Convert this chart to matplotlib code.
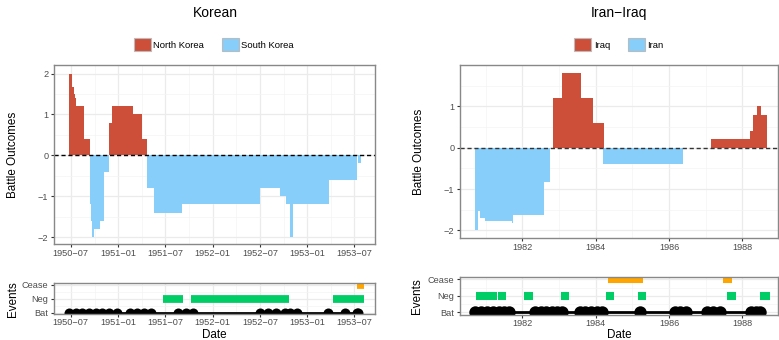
import numpy as np
import matplotlib
matplotlib.use('Agg')
import matplotlib.pyplot as plt
import matplotlib.dates as mdates
from matplotlib.patches import Patch

plt.rcParams['font.family'] = ['Liberation Sans', 'DejaVu Sans']

RED = '#CD4F39'
BLUE = '#87CEFA'
GREEN = '#00CD66'
ORANGE = '#FFA500'

# ---------------- Korean War data ----------------
korea_start = ['1950-06-25', '1950-07-06', '1950-07-12', '1950-07-16', '1950-07-21', '1950-08-20',
               '1950-09-14', '1950-09-17', '1950-09-22', '1950-09-28', '1950-10-22', '1950-11-07',
               '1950-11-27', '1950-12-08', '1951-02-26', '1951-04-03',
               '1951-04-22', '1951-05-18', '1951-09-04', '1952-06-30', '1952-09-17', '1952-10-10',
               '1952-10-25', '1952-11-06', '1953-03-24', '1953-07-14']
korea_end = ['1950-07-06', '1950-07-12', '1950-07-16', '1950-07-21', '1950-08-20', '1950-09-14',
             '1950-09-17', '1950-09-22', '1950-09-28', '1950-10-22', '1950-11-07', '1950-11-27',
             '1950-12-08', '1951-02-26', '1951-04-03', '1951-04-22',
             '1951-05-18', '1951-09-04', '1952-06-30', '1952-09-17', '1952-10-10', '1952-10-25',
             '1952-11-06', '1953-03-24', '1953-07-10', '1953-07-25']
korea_value = [2.0, 1.67, 1.5, 1.4, 1.2, 0.4,
               -1.2, -1.6, -2.0, -1.8, -1.6, -0.4,
               0.8, 1.2, 1.0, 0.4,
               -0.8, -1.4, -1.2, -0.8, -1.0, -1.2,
               -2.0, -1.2, -0.6, -0.2]

korea_neg_start = ['1951-06-22', '1951-10-09', '1953-04-09']
korea_neg_end = ['1951-09-07', '1952-10-20', '1953-08-09']
korea_cease_start = ['1953-07-10']
korea_cease_end = ['1953-08-09']
korea_battles = ['1950-06-25', '1950-07-20', '1950-08-15', '1950-09-10', '1950-10-05', '1950-10-30',
                 '1950-11-25', '1950-12-25', '1951-02-16', '1951-03-12', '1951-04-10', '1951-05-08',
                 '1951-08-20', '1951-09-18', '1951-10-16', '1952-07-01', '1952-08-01', '1952-09-01',
                 '1952-10-06', '1952-10-25', '1952-11-20', '1953-03-21', '1953-05-25', '1953-07-10',
                 '1953-07-16']
korea_ticks = ['1950-07-01', '1951-01-01', '1951-07-01', '1952-01-01', '1952-07-01', '1953-01-01', '1953-07-01']
korea_tick_labels = ['1950\u221207', '1951\u221201', '1951\u221207', '1952\u221201',
                     '1952\u221207', '1953\u221201', '1953\u221207']
korea_minor = ['1950-10-01', '1951-04-01', '1951-10-01', '1952-04-01', '1952-10-01', '1953-04-01']
korea_xlim = ['1950-04-27', '1953-09-19']

# ---------------- Iran-Iraq War data (decimal years) ----------------
iran_start = [1980.72, 1980.79, 1980.85, 1980.98, 1981.72, 1981.75, 1982.58,
              1982.83, 1983.08, 1983.59, 1983.92,
              1984.20,
              1987.14, 1988.21, 1988.28, 1988.39, 1988.50]
iran_end = [1980.79, 1980.85, 1980.98, 1981.72, 1981.75, 1982.58, 1982.75,
            1983.08, 1983.59, 1983.92, 1984.22,
            1986.37,
            1988.21, 1988.28, 1988.39, 1988.50, 1988.66]
iran_value = [-2.0, -1.52, -1.69, -1.76, -1.81, -1.62, -0.82,
              1.2, 1.8, 1.2, 0.6,
              -0.4,
              0.2, 0.4, 0.8, 1.0, 0.8]

iran_neg_start = [1980.74, 1981.34, 1982.05, 1983.05, 1984.28, 1985.15, 1987.58, 1988.48]
iran_neg_end = [1981.31, 1981.55, 1982.29, 1983.27, 1984.49, 1985.37, 1987.83, 1988.75]
iran_cease_start = [1984.34, 1987.47]
iran_cease_end = [1985.29, 1987.72]
iran_battles = [1980.72, 1980.88, 1981.04, 1981.20, 1981.36, 1981.50, 1981.63,
                1982.34, 1982.50, 1982.65, 1982.80, 1982.95, 1983.08,
                1983.56, 1983.72, 1983.88, 1984.03, 1984.17,
                1985.20,
                1986.15, 1986.31, 1986.47,
                1987.03, 1987.20, 1987.40,
                1988.24, 1988.37, 1988.49]
iran_ticks = [1982, 1984, 1986, 1988]
iran_tick_labels = ['1982', '1984', '1986', '1988']
iran_minor = [1981, 1983, 1985, 1987]
iran_xlim = [1980.30, 1988.97]

event_levels = ['Bat', 'Neg', 'Cease']


def dn(lst):
    return mdates.date2num(np.array(lst, dtype='datetime64[D]'))


W, H = 779, 340
fig = plt.figure(figsize=(W / 100, H / 100), dpi=100)


def box(l, t, r, b):
    return [l / W, 1 - b / H, (r - l) / W, (b - t) / H]


def style(ax, xmajor, xminor, ymajor, yminor, xpad=1.0):
    ax.set_facecolor('white')
    for s in ax.spines.values():
        s.set_color('#888888')
        s.set_linewidth(1.0)
        s.set_zorder(10)
    ax.set_xticks(xmajor)
    ax.set_xticks(xminor, minor=True)
    ax.set_yticks(ymajor)
    ax.set_yticks(yminor, minor=True)
    ax.grid(which='major', color='#EBEBEB', linewidth=0.9)
    ax.grid(which='minor', color='#F4F4F4', linewidth=0.5)
    ax.set_axisbelow(True)
    ax.tick_params(which='major', length=2.5, width=0.8, color='#333333',
                   labelcolor='#4D4D4D', labelsize=6.6)
    ax.tick_params(axis='x', which='major', pad=xpad)
    ax.tick_params(axis='y', which='major', pad=1.5)
    ax.tick_params(which='minor', length=0)


def battles(ax, xs, size):
    ax.plot(xs, [1] * len(xs), '-', color='black', linewidth=2, zorder=3, clip_on=True)
    sc = ax.scatter(xs, [1] * len(xs), s=size, color='black', linewidths=0, zorder=3, clip_on=True)
    sc.set_clip_path(ax.patch)


lbl_kw = dict(fontsize=8.4, color='black')

# ---------------- Korean main panel ----------------
ax1 = fig.add_axes(box(54, 65, 375, 244))
ks, ke = dn(korea_start), dn(korea_end)
ax1.bar(ks, korea_value, width=ke - ks, align='edge', linewidth=0,
        color=[RED if v > 0 else BLUE for v in korea_value], zorder=2)
ax1.axhline(0, color='black', linewidth=1.0, linestyle=(0, (3, 2)), zorder=3)
style(ax1, dn(korea_ticks), dn(korea_minor), [-2, -1, 0, 1, 2], [-1.5, -0.5, 0.5, 1.5])
ax1.set_xticklabels(korea_tick_labels)
ax1.set_yticklabels(['\u22122', '\u22121', '0', '1', '2'])
ax1.set_xlim(dn(korea_xlim))
ax1.set_ylim(-2.17, 2.21)

# ---------------- Korean events panel ----------------
ax2 = fig.add_axes(box(54, 283.3, 375, 314))
ax2.hlines([2] * len(korea_neg_start), dn(korea_neg_start), dn(korea_neg_end),
           color=GREEN, linewidth=5.6, capstyle='butt', zorder=2)
ax2.hlines([3] * len(korea_cease_start), dn(korea_cease_start), dn(korea_cease_end),
           color=ORANGE, linewidth=5.6, capstyle='butt', zorder=2)
battles(ax2, dn(korea_battles), 52)
style(ax2, dn(korea_ticks), dn(korea_minor), [1, 2, 3], [1.5, 2.5], xpad=0.3)
ax2.set_xticklabels(korea_tick_labels)
ax2.set_yticklabels(event_levels)
ax2.set_xlim(dn(korea_xlim))
ax2.set_ylim(0.9, 3.1)

# ---------------- Iran main panel ----------------
ax3 = fig.add_axes(box(460, 65, 778, 238.3))
is_, ie = np.array(iran_start), np.array(iran_end)
ax3.bar(is_, iran_value, width=ie - is_, align='edge', linewidth=0,
        color=[RED if v > 0 else BLUE for v in iran_value], zorder=2)
ax3.axhline(0, color='#333333', linewidth=1.0, linestyle=(0, (3, 2)), zorder=3)
style(ax3, iran_ticks, iran_minor, [-2, -1, 0, 1], [-1.5, -0.5, 0.5, 1.5])
ax3.set_xticklabels(iran_tick_labels)
ax3.set_yticklabels(['\u22122', '\u22121', '0', '1'])
ax3.set_xlim(iran_xlim)
ax3.set_ylim(-2.19, 2.0)

# ---------------- Iran events panel ----------------
ax4 = fig.add_axes(box(460, 276.7, 778, 314.7))
ax4.hlines([2] * len(iran_neg_start), iran_neg_start, iran_neg_end,
           color=GREEN, linewidth=5.8, capstyle='butt', zorder=2)
ax4.hlines([3] * len(iran_cease_start), iran_cease_start, iran_cease_end,
           color=ORANGE, linewidth=5.8, capstyle='butt', zorder=2)
battles(ax4, iran_battles, 80)
style(ax4, iran_ticks, iran_minor, [1, 2, 3], [1.5, 2.5], xpad=0.3)
ax4.set_xticklabels(iran_tick_labels)
ax4.set_yticklabels(event_levels)
ax4.set_xlim(iran_xlim)
ax4.set_ylim(0.84, 3.16)

# ---------------- Titles, labels, legends ----------------
fig.text(215 / W, 1 - 13 / H, 'Korean', ha='center', va='center', fontsize=10)
fig.text(619 / W, 1 - 13 / H, 'Iran\u2212Iraq', ha='center', va='center', fontsize=10)

fig.text(12.7 / W, 1 - 155 / H, 'Battle Outcomes', rotation=90, ha='center', va='center', **lbl_kw)
fig.text(12.7 / W, 1 - 299 / H, 'Events', rotation=90, ha='center', va='center', **lbl_kw)
fig.text(418.5 / W, 1 - 152 / H, 'Battle Outcomes', rotation=90, ha='center', va='center', **lbl_kw)
fig.text(417 / W, 1 - 296 / H, 'Events', rotation=90, ha='center', va='center', **lbl_kw)
fig.text(214.5 / W, 1 - 335.5 / H, 'Date', ha='center', va='center', **lbl_kw)
fig.text(619 / W, 1 - 335.5 / H, 'Date', ha='center', va='center', **lbl_kw)

leg_kw = dict(loc='center', ncol=2, frameon=False, fontsize=6.8, handlelength=1.8,
              handleheight=1.8, handletextpad=0.25, columnspacing=1.9, borderpad=0)
h1 = [Patch(facecolor=RED, edgecolor='#BBBBBB', linewidth=0.8, label='North Korea'),
      Patch(facecolor=BLUE, edgecolor='#BBBBBB', linewidth=0.8, label='South Korea')]
fig.legend(handles=h1, bbox_to_anchor=(214 / W, 1 - 44.5 / H), **leg_kw)
h2 = [Patch(facecolor=RED, edgecolor='#BBBBBB', linewidth=0.8, label='Iraq'),
      Patch(facecolor=BLUE, edgecolor='#BBBBBB', linewidth=0.8, label='Iran')]
fig.legend(handles=h2, bbox_to_anchor=(619 / W, 1 - 44.5 / H), **leg_kw)

fig.savefig('out.png', dpi=100, facecolor='white')
